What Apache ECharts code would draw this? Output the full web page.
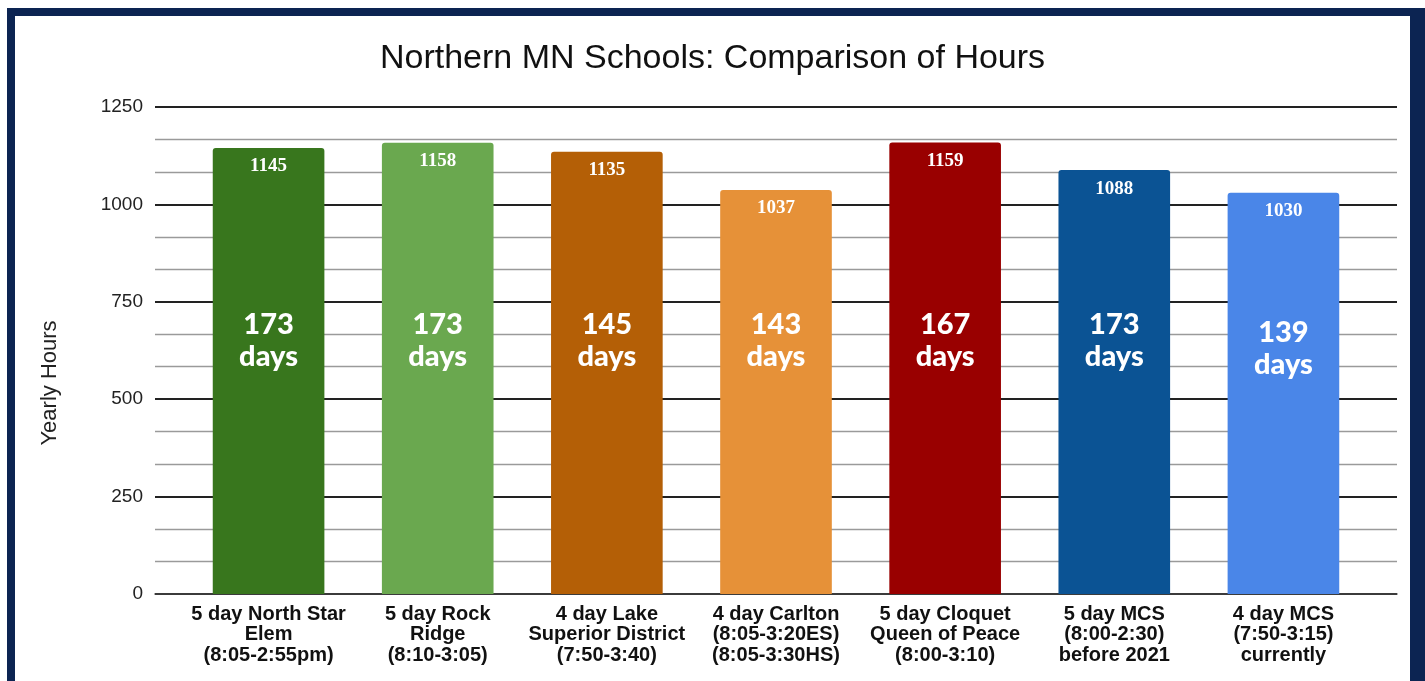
<!DOCTYPE html>
<html>
<head>
<meta charset="utf-8">
<script src="https://cdn.jsdelivr.net/npm/echarts@6/dist/echarts.min.js"></script>
<style>
  html, body { margin: 0; padding: 0; background: #fff; }
  #chart { width: 1425px; height: 681px; }
  #frame {
    position: absolute; left: 7px; top: 8px; width: 1418px; height: 700px;
    box-sizing: border-box; border: 8px solid #0c2452; border-right-width: 15px;
    pointer-events: none;
  }
</style>
</head>
<body>
<div id="chart"></div>
<div id="frame"></div>
<script>
// categories (x axis labels)
const schools = [
    '5 day North Star\nElem\n(8:05-2:55pm)',
    '5 day Rock\nRidge\n(8:10-3:05)',
    '4 day Lake\nSuperior District\n(7:50-3:40)',
    '4 day Carlton\n(8:05-3:20ES)\n(8:05-3:30HS)',
    '5 day Cloquet\nQueen of Peace\n(8:00-3:10)',
    '5 day MCS\n(8:00-2:30)\nbefore 2021',
    '4 day MCS\n(7:50-3:15)\ncurrently'
];
const yearlyHours = [1145, 1158, 1135, 1037, 1159, 1088, 1030];
const schoolDays = [173, 173, 145, 143, 167, 173, 139];
const barColors = ['#38761d', '#6aa84f', '#b45f06', '#e69138', '#990000', '#0b5394', '#4a86e8'];

const chart = echarts.init(document.getElementById('chart'));

// "days" annotations sit at a fixed height inside the bars
const daysLevel = 650;

chart.setOption({
    animation: false,
    title: {
        text: 'Northern MN Schools: Comparison of Hours',
        left: 'center',
        top: 37,
        textStyle: { fontFamily: 'Liberation Sans', fontSize: 34, fontWeight: 'normal', color: '#111' }
    },
    // grid 0: gridlines + y labels (wider), grid 1: the bars
    grid: [
        { left: 155, right: 28, top: 107, bottom: 87 },
        { left: 184, right: 57, top: 107, bottom: 87 }
    ],
    xAxis: [
        {
            gridIndex: 0,
            type: 'value',
            min: 0,
            max: 1,
            axisLabel: { show: false },
            axisTick: { show: false },
            splitLine: { show: false },
            axisLine: { lineStyle: { color: '#444', width: 1.5 } }
        },
        {
            gridIndex: 1,
            type: 'category',
            data: schools,
            axisTick: { show: false },
            axisLine: { show: false },
            axisLabel: {
                interval: 0,
                margin: 10,
                fontFamily: 'Liberation Sans',
                fontSize: 20,
                fontWeight: 'bold',
                lineHeight: 20.5,
                color: '#111'
            }
        }
    ],
    yAxis: [
        {
            gridIndex: 0,
            type: 'value',
            min: 0,
            max: 1250,
            interval: 250,
            axisLine: { show: false },
            axisTick: { show: false },
            axisLabel: {
                fontFamily: 'Liberation Sans',
                fontSize: 19,
                color: '#222',
                margin: 12,
                formatter: v => String(v)
            },
            splitLine: { lineStyle: { color: '#222', width: 1.8 } },
            minorTick: { show: false, splitNumber: 3 },
            minorSplitLine: { show: true, lineStyle: { color: '#9a9a9a', width: 1.4 } }
        },
        {
            gridIndex: 1,
            type: 'value',
            min: 0,
            max: 1250,
            show: false,
            splitLine: { show: false }
        }
    ],
    graphic: [{
        type: 'text',
        x: 50,
        y: 383,
        rotation: Math.PI / 2,
        style: {
            text: 'Yearly Hours',
            fontFamily: 'Liberation Sans',
            fontSize: 22,
            fill: '#222',
            align: 'center',
            verticalAlign: 'middle'
        }
    }],
    series: [
        {
            type: 'bar',
            xAxisIndex: 1,
            yAxisIndex: 1,
            barCategoryGap: '34%',
            data: yearlyHours.map((v, i) => ({ value: v, itemStyle: { color: barColors[i] } })),
            itemStyle: { borderRadius: [3, 3, 0, 0] },
            label: {
                show: true,
                position: 'insideTop',
                distance: 9,
                color: '#fff',
                fontFamily: 'Liberation Serif',
                fontWeight: 'bold',
                fontSize: 19
            }
        },
        {
            type: 'scatter',
            xAxisIndex: 1,
            yAxisIndex: 1,
            symbolSize: 0,
            silent: true,
            z: 5,
            itemStyle: { opacity: 1 },
            data: schoolDays.map((d, i) => ({
                value: [i, daysLevel],
                label: { offset: i === 6 ? [0, 8] : [0, 0] }
            })),
            label: {
                show: true,
                position: 'inside',
                formatter: p => schoolDays[p.dataIndex] + '\ndays',
                color: '#ffffff',
                fontFamily: 'Lato',
                fontWeight: 900,
                fontSize: 29,
                lineHeight: 32
            }
        }
    ]
});
</script>
</body>
</html>
